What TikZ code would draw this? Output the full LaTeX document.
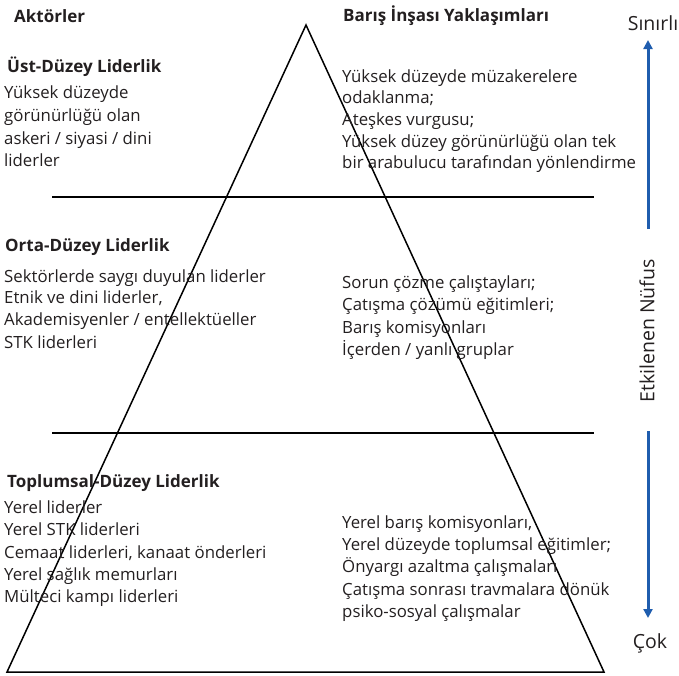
\documentclass[tikz,border=0pt]{standalone}
\usepackage{fontspec}
\setmainfont{Open Sans}
\usetikzlibrary{arrows.meta}
\definecolor{txt}{HTML}{231F20}
\definecolor{arrowblue}{HTML}{1F5DAE}
\tikzset{
  body/.style={anchor=base west, inner sep=0pt, font=\fontsize{16.8}{18}\selectfont, text=txt},
  head/.style={anchor=base west, inner sep=0pt, font=\fontsize{17}{18}\selectfont\bfseries, text=txt},
  side/.style={inner sep=0pt, font=\fontsize{19.5}{20}\selectfont, text=txt},
  edge/.style={draw=black, line width=1.5pt, line join=miter},
  flow/.style={draw=arrowblue, line width=3pt, -{Triangle[length=9pt,width=9pt]}}
}
\begin{document}
\begin{tikzpicture}[x=1pt,y=-1pt]
\useasboundingbox (0,0) rectangle (679,675);
% pyramid
\coordinate (apex) at (306,25);
\coordinate (bl) at (7,672);
\coordinate (br) at (604,672);
\draw[edge] (apex) -- (br) -- (bl) -- cycle;
\coordinate (l1a) at (52,197); \coordinate (l1b) at (594,197);
\coordinate (l2a) at (52,433); \coordinate (l2b) at (594,433);
\draw[edge] (l1a) -- (l1b);
\draw[edge] (l2a) -- (l2b);
% headers
\node[head] (akt) at (14,22) {Aktörler};
\node[head] (bar) at (343,21) {Barış İnşası Yaklaşımları};
% top level
\node[head] (ust) at (7,72) {Üst-Düzey Liderlik};
\node[body] (u1) at (4,98) {Yüksek düzeyde};
\node[body] (u2) at (4,121) {görünürlüğü olan};
\node[body] (u3) at (4,144) {askeri / siyasi / dini};
\node[body] (u4) at (4,166) {liderler};
\node[body] (ur1) at (342,82) {Yüksek düzeyde müzakerelere};
\node[body] (ur2) at (342,103.5) {odaklanma;};
\node[body] (ur3) at (342,125) {Ateşkes vurgusu;};
\node[body] (ur4) at (342,147) {Yüksek düzey görünürlüğü olan tek};
\node[body] (ur5) at (342,168.5) {bir arabulucu tarafından yönlendirme};
% middle level
\node[head] (orta) at (5,251) {Orta-Düzey Liderlik};
\node[body] (o1) at (4,282) {Sektörlerde saygı duyulan liderler};
\node[body] (o2) at (4,303.5) {Etnik ve dini liderler,};
\node[body] (o3) at (4,325.5) {Akademisyenler / entellektüeller};
\node[body] (o4) at (4,348) {STK liderleri};
\node[body] (or1) at (342,288) {Sorun çözme çalıştayları;};
\node[body] (or2) at (342,310) {Çatışma çözümü eğitimleri;};
\node[body] (or3) at (342,333) {Barış komisyonları};
\node[body] (or4) at (342,355) {İçerden / yanlı gruplar};
% grassroots
\node[head] (top) at (7,487) {Toplumsal-Düzey Liderlik};
\node[body] (t1) at (4,513) {Yerel liderler};
\node[body] (t2) at (4,535) {Yerel STK liderleri};
\node[body] (t3) at (4,558) {Cemaat liderleri, kanaat önderleri};
\node[body] (t4) at (4,580) {Yerel sağlık memurları};
\node[body] (t5) at (4,602) {Mülteci kampı liderleri};
\node[body] (tr1) at (342,528) {Yerel barış komisyonları,};
\node[body] (tr2) at (342,550) {Yerel düzeyde toplumsal eğitimler;};
\node[body] (tr3) at (342,572) {Önyargı azaltma çalışmaları};
\node[body] (tr4) at (342,595) {Çatışma sonrası travmalara dönük};
\node[body] (tr5) at (342,617) {psiko-sosyal çalışmalar};
% side scale
\node[side, anchor=base] (sin) at (653,30) {Sınırlı};
\node[side, anchor=base] (cok) at (650,648) {Çok};
\node[side, rotate=90] (etk) at (647,331) {Etkilenen Nüfus};
\coordinate (upS) at (648,229);
\coordinate (upE) at (648,40);
\coordinate (dnS) at (648,431);
\coordinate (dnE) at (648,618);
\draw[flow] (upS) -- (upE);
\draw[flow] (dnS) -- (dnE);
\end{tikzpicture}
\end{document}
